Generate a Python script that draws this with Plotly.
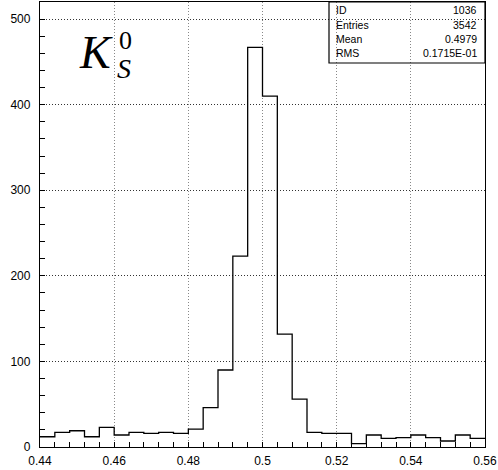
import plotly.graph_objects as go

# ---- data ----
bin_start = 0.44
bin_width = 0.004
counts = [12, 17, 19, 12, 23, 14, 17, 16, 17, 16,
          21, 46, 90, 223, 467, 410, 132, 56, 17, 16,
          16, 4, 14, 10, 11, 14, 11, 7, 14, 10]
stat_labels = ["ID", "Entries", "Mean", "RMS"]
stat_values = ["1036", "3542", "0.4979", "0.1715E-01"]
x_ticks = [0.44, 0.46, 0.48, 0.5, 0.52, 0.54, 0.56]
x_tick_text = ["0.44", "0.46", "0.48", "0.5", "0.52", "0.54", "0.56"]
y_ticks = [0, 100, 200, 300, 400, 500]

edges = [bin_start + i * bin_width for i in range(len(counts) + 1)]
ys = counts + [counts[-1]]

W, H = 498, 470
ML, MR, MT, MB = 40, 13, 2, 23
PW, PH = W - ML - MR, H - MT - MB


def px(xp):
    return (xp - ML) / PW


def py(yp):
    return (H - MB - yp) / PH


fig = go.Figure()
fig.add_trace(go.Scatter(x=edges, y=ys, mode="lines", line_shape="hv",
                         line=dict(color="black", width=1.3),
                         hoverinfo="skip", showlegend=False))

font_ax = dict(family="Liberation Sans, Arial, sans-serif", size=12, color="black")

fig.update_layout(
    width=W, height=H,
    margin=dict(l=ML, r=MR, t=MT, b=MB, pad=0),
    paper_bgcolor="white", plot_bgcolor="white",
    showlegend=False,
    xaxis=dict(range=[0.44, 0.56], tickvals=x_ticks, ticktext=x_tick_text,
               ticks="inside", ticklen=5, tickcolor="black",
               minor=dict(dtick=bin_width, tick0=0.44, ticks="inside", ticklen=5,
                          tickcolor="black", showgrid=False),
               showgrid=True, gridcolor="#888", griddash="1px,2px", gridwidth=1,
               showline=True, linecolor="black", linewidth=1.3, mirror=True,
               zeroline=False, tickfont=font_ax, ticklabelstandoff=2),
    yaxis=dict(range=[0, 520], tickvals=y_ticks,
               ticks="inside", ticklen=5, tickcolor="black",
               minor=dict(dtick=20, tick0=0, ticks="inside", ticklen=5,
                          tickcolor="black", showgrid=False),
               showgrid=True, gridcolor="#333", griddash="1px,2px", gridwidth=1,
               showline=True, linecolor="black", linewidth=1.3, mirror=True,
               zeroline=False, tickfont=font_ax, ticklabelstandoff=6),
)

# stats box
fig.add_shape(type="rect", xref="paper", yref="paper",
              x0=px(329), x1=1.0, y0=py(63), y1=1.0,
              line=dict(color="black", width=1.2), fillcolor="rgba(0,0,0,0)")
row_y = [10, 25, 39, 53]
font_st = dict(family="Liberation Sans, Arial, sans-serif", size=10.5, color="black")
for lab, val, yy in zip(stat_labels, stat_values, row_y):
    fig.add_annotation(xref="paper", yref="paper", x=px(334), y=py(yy),
                       text=lab, showarrow=False, xanchor="left", yanchor="middle",
                       font=font_st)
    fig.add_annotation(xref="paper", yref="paper", x=px(479), y=py(yy),
                       text=val, showarrow=False, xanchor="right", yanchor="middle",
                       font=font_st)

# K_S^0 label
serif = "Liberation Serif, DejaVu Serif, serif"
fig.add_annotation(xref="paper", yref="paper", x=px(77), y=py(52),
                   text="<i>K</i>", showarrow=False, xanchor="left", yanchor="middle",
                   font=dict(family=serif, size=46, color="black"))
fig.add_annotation(xref="paper", yref="paper", x=px(117), y=py(40),
                   text="0", showarrow=False, xanchor="left", yanchor="middle",
                   font=dict(family=serif, size=26, color="black"))
fig.add_annotation(xref="paper", yref="paper", x=px(115), y=py(68),
                   text="<i>S</i>", showarrow=False, xanchor="left", yanchor="middle",
                   font=dict(family=serif, size=28, color="black"))

fig.write_html("out.html", config={"displayModeBar": False},
               post_script="document.body.style.margin='0';document.body.style.overflow='hidden';")
